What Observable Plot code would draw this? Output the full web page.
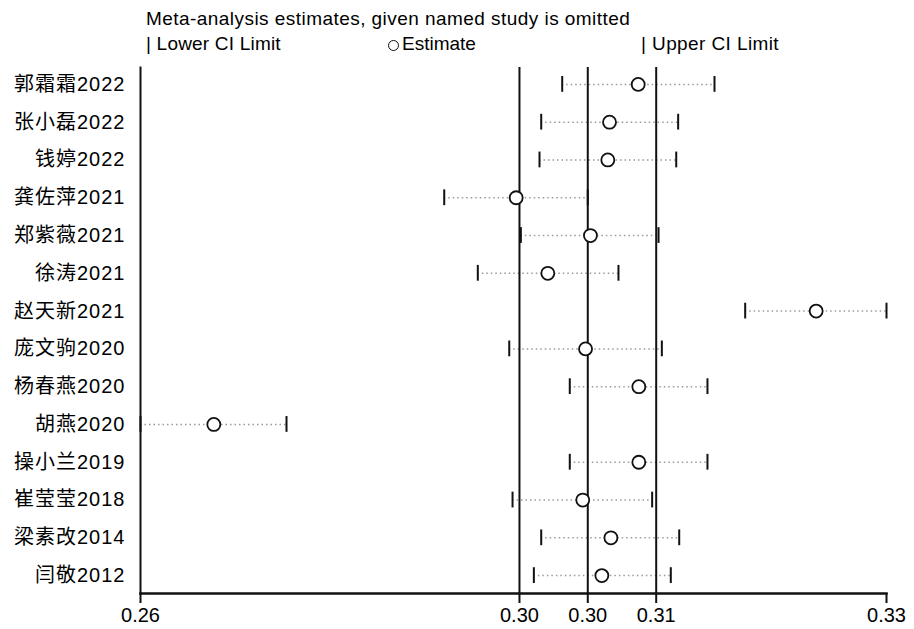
<!DOCTYPE html>
<html><head><meta charset="utf-8">
<script src="https://cdn.jsdelivr.net/npm/d3@7"></script>
<script src="https://cdn.jsdelivr.net/npm/@observablehq/plot@0.6"></script>
<style>
body{margin:0;background:#fff;}
#wrap{position:relative;width:914px;height:629px;overflow:hidden;font-family:"Liberation Sans",Arial,"Noto Sans CJK SC",sans-serif;color:#000;background:#fff;}
#head{position:relative;height:60px;}
.t{position:absolute;white-space:nowrap;line-height:1;}
.c{display:inline-block;width:9px;height:9px;border:1.6px solid #111;border-radius:50%;margin-right:3px;vertical-align:-1px;}
g[aria-label="y-axis tick label"] text{letter-spacing:1px;}
</style></head><body>
<div id="wrap">
<div id="head">
<div class="t" style="left:146px;top:9px;font-size:19px;letter-spacing:0.45px">Meta-analysis estimates, given named study is omitted</div>
<div class="t" style="left:146px;top:34px;font-size:19px;letter-spacing:0.2px">| Lower CI Limit</div>
<div class="t" style="left:388px;top:34px;font-size:19px"><span class="c"></span>Estimate</div>
<div class="t" style="left:641px;top:34px;font-size:19px;letter-spacing:0.4px">| Upper CI Limit</div>
</div>
<div id="chart"></div>
</div>
<script>
const studies = ["郭霜霜2022","张小磊2022","钱婷2022","龚佐萍2021","郑紫薇2021","徐涛2021","赵天新2021","庞文驹2020","杨春燕2020","胡燕2020","操小兰2019","崔莹莹2018","梁素改2014","闫敬2012"];
const lower    = [0.29957,0.29760,0.29744,0.28850,0.29569,0.29165,0.31674,0.29460,0.30028,0.26000,0.30028,0.29491,0.29760,0.29691];
const estimate = [0.30670,0.30401,0.30385,0.29525,0.30222,0.29822,0.32340,0.30176,0.30676,0.26688,0.30676,0.30150,0.30414,0.30329];
const upper    = [0.31386,0.31045,0.31027,0.30197,0.30861,0.30485,0.33000,0.30892,0.31320,0.27370,0.31320,0.30801,0.31055,0.30976];
const overall  = [0.29556,0.30197,0.30839]; // lower CI, estimate, upper CI
const xDomain  = [0.26,0.33];
const xTicks   = [0.26,0.29556,0.30197,0.30839,0.33];

const rows = studies.map((s,i)=>({study:s, lo:lower[i], est:estimate[i], hi:upper[i]}));
const fmt = d3.format(".2f");
const ink = "#111";

const chart = Plot.plot({
  width:914, height:569,
  marginTop:7, marginBottom:36, marginLeft:140, marginRight:28,
  style:{fontFamily:'"Liberation Sans",Arial,"Noto Sans CJK SC",sans-serif', fontSize:"20px", color:"#000", background:"white"},
  x:{domain:xDomain, label:null},
  y:{type:"band", domain:studies, label:null, padding:0, round:false, range:[5,534]},
  marks:[
    Plot.ruleY(rows,{y:"study", x1:"lo", x2:"hi", stroke:"#9a9a9a", strokeWidth:1.5, strokeDasharray:"1.5,3"}),
    Plot.ruleX(overall,{stroke:ink, strokeWidth:2}),
    Plot.tickX(rows,{x:"lo", y:"study", insetTop:11, insetBottom:11, stroke:ink, strokeWidth:2}),
    Plot.tickX(rows,{x:"hi", y:"study", insetTop:11, insetBottom:11, stroke:ink, strokeWidth:2}),
    Plot.dot(rows,{x:"est", y:"study", r:6.5, stroke:ink, strokeWidth:1.8, fill:"white"}),
    Plot.frame({anchor:"left", stroke:ink, strokeWidth:2}),
    Plot.frame({anchor:"bottom", stroke:ink, strokeWidth:2.5}),
    Plot.axisX({ticks:xTicks, tickFormat:fmt, tickSize:10, tickPadding:4, stroke:ink, strokeWidth:2, fontSize:20, label:null}),
    Plot.axisY({tickSize:0, tickPadding:15, fontSize:20, label:null})
  ]
});
document.getElementById("chart").appendChild(chart);
</script>
</body></html>
